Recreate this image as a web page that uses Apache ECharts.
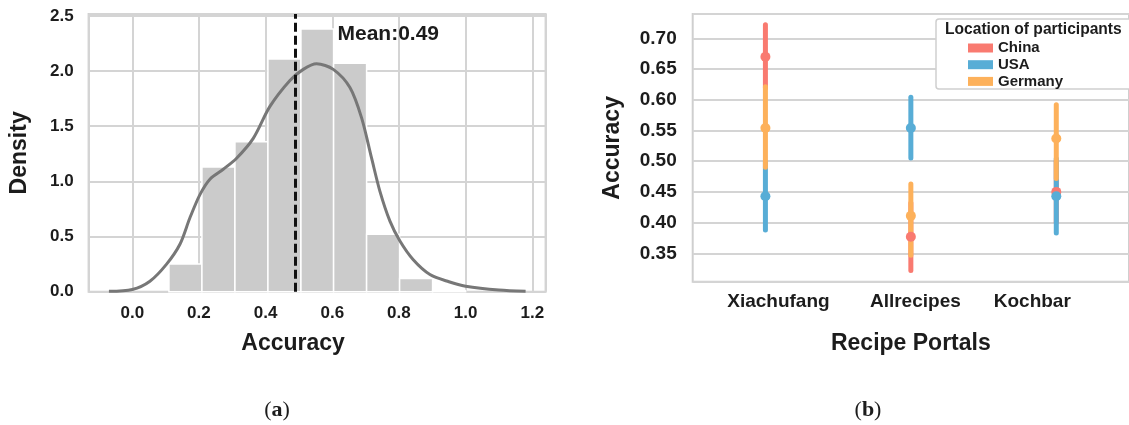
<!DOCTYPE html>
<html>
<head>
    <meta charset="utf-8" />
    <title>Accuracy</title>
    <script src="https://cdn.jsdelivr.net/npm/echarts@6/dist/echarts.min.js"></script>
    <style type="text/css">
        body {
            margin: 0;
            padding: 0;
            background-color: #fff;
        }

        #main {
            width: 1129px;
            height: 425px;
        }
    </style>
</head>
<body>
    <div id="main"></div>
    <script type="text/javascript">
        // (a) histogram of accuracy
        var binEdges = [0.110, 0.209, 0.308, 0.407, 0.506, 0.604, 0.703, 0.802, 0.901, 1.000];
        var binDensity = [0.25, 1.13, 1.36, 2.11, 2.38, 2.07, 0.52, 0.12, 0.01];
        // kde curve
        var kdeX = [-0.07, 0.0, 0.053, 0.103, 0.143, 0.173, 0.203, 0.233, 0.273, 0.313, 0.363, 0.413, 0.473, 0.513, 0.553, 0.603, 0.653, 0.688, 0.718, 0.743, 0.773, 0.803, 0.843, 0.893, 0.95, 1.0, 1.1, 1.18];
        var kdeY = [0.003, 0.02, 0.095, 0.25, 0.43, 0.67, 0.88, 1.02, 1.11, 1.21, 1.39, 1.68, 1.915, 2.015, 2.065, 2.015, 1.85, 1.575, 1.21, 0.91, 0.64, 0.46, 0.29, 0.156, 0.09, 0.05, 0.015, 0.004];
        var meanAccuracy = 0.49;

        // (b) accuracy per recipe portal
        var portals = ['Xiachufang', 'Allrecipes', 'Kochbar'];
        var countries = ['China', 'USA', 'Germany'];
        var countryColors = ['#f97a70', '#58add6', '#fdb15b'];
        var chinaMean = [0.670, 0.377, 0.450];
        var chinaLow = [0.619, 0.322, 0.400];
        var chinaHigh = [0.722, 0.432, 0.500];
        var usaMean = [0.443, 0.554, 0.443];
        var usaLow = [0.388, 0.505, 0.383];
        var usaHigh = [0.499, 0.604, 0.504];
        var germanyMean = [0.554, 0.411, 0.537];
        var germanyLow = [0.490, 0.347, 0.472];
        var germanyHigh = [0.621, 0.463, 0.592];

        var font = "'Liberation Sans', Arial, sans-serif";
        var ink = '#1c1c1c';
        var gridLine = '#d4d4d4';

        var myChart = echarts.init(document.getElementById('main'));

        // histogram bars as [start, end, density]
        var bins = [];
        for (var i = 0; i < binDensity.length; i++) {
            bins.push([binEdges[i], binEdges[i + 1], binDensity[i]]);
        }
        var kde = kdeX.map(function (x, i) { return [x, kdeY[i]]; });

        var means = [chinaMean, usaMean, germanyMean];
        var lows = [chinaLow, usaLow, germanyLow];
        var highs = [chinaHigh, usaHigh, germanyHigh];

        // the portal labels sit a little off the point columns in the original
        var labelPadding = [[0, 0, 0, 26], [0, 0, 0, 9], [0, 48, 0, 0]];

        function onStep(v, step) {
            var k = v / step;
            return Math.abs(k - Math.round(k)) < 1e-6;
        }

        var series = [
            {
                type: 'custom',
                xAxisIndex: 0, yAxisIndex: 0,
                data: bins,
                encode: { x: [0, 1], y: 2 },
                renderItem: function (params, api) {
                    var p0 = api.coord([api.value(0), api.value(2)]);
                    var p1 = api.coord([api.value(1), 0]);
                    return {
                        type: 'rect',
                        shape: { x: p0[0], y: p0[1], width: p1[0] - p0[0], height: p1[1] - p0[1] },
                        style: { fill: '#cbcbcb', stroke: '#fff', lineWidth: 1.5 }
                    };
                }
            },
            {
                type: 'line',
                xAxisIndex: 0, yAxisIndex: 0,
                data: kde,
                smooth: 0.3,
                showSymbol: false,
                lineStyle: { color: '#777', width: 3 },
                z: 3,
                markLine: {
                    silent: true,
                    symbol: 'none',
                    label: { show: false },
                    lineStyle: { color: '#111', width: 3, type: [9, 4] },
                    data: [{ xAxis: meanAccuracy }]
                }
            }
        ];

        // error bars first, then points on top
        countries.forEach(function (name, c) {
            series.push({
                name: name,
                type: 'custom',
                xAxisIndex: 1, yAxisIndex: 1,
                itemStyle: { color: countryColors[c] },
                data: portals.map(function (p, i) { return [i, lows[c][i], highs[c][i]]; }),
                encode: { x: 0, y: [1, 2] },
                renderItem: function (params, api) {
                    var lo = api.coord([api.value(0), api.value(1)]);
                    var hi = api.coord([api.value(0), api.value(2)]);
                    return {
                        type: 'line',
                        shape: { x1: lo[0], y1: lo[1], x2: hi[0], y2: hi[1] },
                        style: { stroke: countryColors[c], lineWidth: 5, lineCap: 'round' }
                    };
                },
                z: 2
            });
        });
        countries.forEach(function (name, c) {
            series.push({
                name: name,
                type: 'scatter',
                xAxisIndex: 1, yAxisIndex: 1,
                symbolSize: 10,
                itemStyle: { color: countryColors[c], opacity: 1 },
                data: portals.map(function (p, i) { return [i, means[c][i]]; }),
                z: 3
            });
        });

        var options = {
            backgroundColor: '#fff',
            animation: false,
            textStyle: { fontFamily: font },
            grid: [
                { left: 88.6, top: 14, width: 457, height: 277.7, show: true, borderColor: '#cfcfcf', borderWidth: 2 },
                { left: 692.7, top: 14, width: 442.8, height: 267.7, show: true, borderColor: '#cfcfcf', borderWidth: 2 }
            ],
            xAxis: [
                {
                    gridIndex: 0,
                    type: 'value',
                    min: -0.131,
                    max: 1.24,
                    splitNumber: 7,
                    name: 'Accuracy',
                    nameLocation: 'middle',
                    nameGap: 40,
                    nameTextStyle: { fontFamily: font, fontSize: 23, fontWeight: 'bold', color: ink, padding: [0, 48, 0, 0] },
                    axisLine: { show: false },
                    axisTick: { show: false },
                    axisLabel: {
                        margin: 13, fontFamily: font, fontSize: 17, fontWeight: 'bold', color: ink,
                        formatter: function (v) { return onStep(v, 0.2) ? v.toFixed(1) : ''; }
                    },
                    splitLine: { show: true, lineStyle: { color: gridLine, width: 2 } }
                },
                {
                    gridIndex: 1,
                    type: 'category',
                    data: portals.map(function (p, i) {
                        return { value: p, textStyle: { padding: labelPadding[i] } };
                    }),
                    name: 'Recipe Portals',
                    nameLocation: 'middle',
                    nameGap: 50,
                    nameTextStyle: { fontFamily: font, fontSize: 23, fontWeight: 'bold', color: ink },
                    axisLine: { show: false },
                    axisTick: { show: false },
                    axisLabel: { margin: 11, fontFamily: font, fontSize: 19, fontWeight: 'bold', color: ink },
                    splitLine: { show: false }
                }
            ],
            yAxis: [
                {
                    gridIndex: 0,
                    type: 'value',
                    min: 0,
                    max: 2.517,
                    interval: 0.5,
                    name: 'Density',
                    nameLocation: 'middle',
                    nameGap: 57,
                    nameTextStyle: { fontFamily: font, fontSize: 23, fontWeight: 'bold', color: ink },
                    axisLine: { show: false },
                    axisTick: { show: false },
                    axisLabel: {
                        margin: 15, fontFamily: font, fontSize: 17, fontWeight: 'bold', color: ink,
                        formatter: function (v) { return onStep(v, 0.5) ? v.toFixed(1) : ''; }
                    },
                    splitLine: { show: true, lineStyle: { color: gridLine, width: 2 } }
                },
                {
                    gridIndex: 1,
                    type: 'value',
                    min: 0.3038,
                    max: 0.7396,
                    splitNumber: 9,
                    name: 'Accuracy',
                    nameLocation: 'middle',
                    nameGap: 69,
                    nameTextStyle: { fontFamily: font, fontSize: 23, fontWeight: 'bold', color: ink },
                    axisLine: { show: false },
                    axisTick: { show: false },
                    axisLabel: {
                        margin: 16, fontFamily: font, fontSize: 19, fontWeight: 'bold', color: ink,
                        formatter: function (v) { return onStep(v, 0.05) ? v.toFixed(2) : ''; }
                    },
                    splitLine: { show: true, lineStyle: { color: gridLine, width: 2 } }
                }
            ],
            legend: {
                data: countries,
                orient: 'vertical',
                left: 963,
                top: 35.5,
                icon: 'rect',
                itemWidth: 25,
                itemHeight: 9,
                itemGap: 1.7,
                selectedMode: false,
                z: 60,
                textStyle: { fontFamily: font, fontSize: 15, fontWeight: 'bold', color: ink, lineHeight: 15 }
            },
            graphic: [
                {
                    type: 'rect', z: 50,
                    shape: { x: 936, y: 19, width: 230, height: 70, r: 3 },
                    style: { fill: '#fff', stroke: '#cfcfcf', lineWidth: 1.5 }
                },
                {
                    type: 'text', z: 60, x: 945, y: 29.3,
                    style: { text: 'Location of participants', font: 'bold 15.6px ' + font, fill: ink, verticalAlign: 'middle' }
                },
                {
                    type: 'text', z: 60, x: 337.5, y: 33.8,
                    style: { text: 'Mean:' + meanAccuracy.toFixed(2), font: 'bold 21px ' + font, fill: ink, verticalAlign: 'middle' }
                },
                {
                    type: 'text', z: 60, x: 277, y: 410,
                    style: {
                        text: '{p|(}{b|a}{p|)}', align: 'center', verticalAlign: 'middle',
                        rich: {
                            p: { font: '22px "Liberation Serif", serif', fill: ink },
                            b: { font: 'bold 22px "Liberation Serif", serif', fill: ink }
                        }
                    }
                },
                {
                    type: 'text', z: 60, x: 868, y: 410,
                    style: {
                        text: '{p|(}{b|b}{p|)}', align: 'center', verticalAlign: 'middle',
                        rich: {
                            p: { font: '22px "Liberation Serif", serif', fill: ink },
                            b: { font: 'bold 22px "Liberation Serif", serif', fill: ink }
                        }
                    }
                }
            ],
            series: series
        };

        myChart.setOption(options);
    </script>
</body>
</html>
